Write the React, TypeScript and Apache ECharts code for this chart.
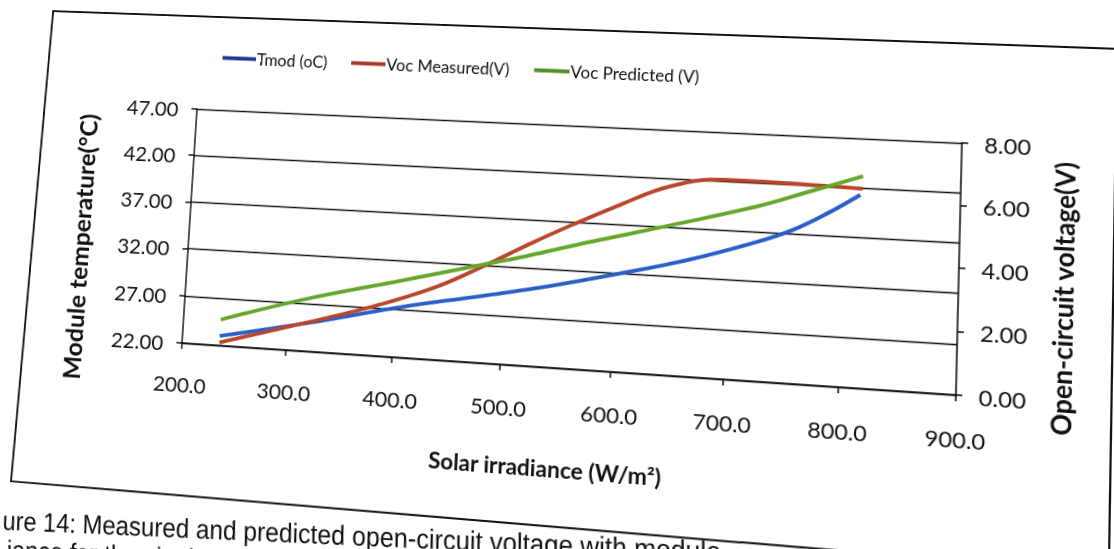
import { useEffect, useRef } from "react";
import * as echarts from "echarts";

// Module temperature (left axis) against solar irradiance
const tmodIrradiance = [236, 317, 405, 481, 545, 604, 665, 725, 756, 785, 814];
const tmodValues = [23.0, 24.9, 27.2, 28.9, 30.4, 32.0, 33.8, 36.0, 37.4, 39.2, 41.3];

// Measured open-circuit voltage (right axis)
const vocMeasuredIrradiance = [236, 303, 377, 437, 481, 519, 548, 602, 647, 695, 728, 772, 816];
const vocMeasuredValues = [0.1, 0.8, 1.6, 2.4, 3.2, 3.95, 4.5, 5.45, 6.15, 6.45, 6.45, 6.42, 6.38];

// Predicted open-circuit voltage (right axis)
const vocPredictedIrradiance = [236, 316, 405, 481, 519, 573, 648, 724, 769, 816];
const vocPredictedValues = [0.87, 1.74, 2.55, 3.25, 3.6, 4.15, 4.87, 5.63, 6.19, 6.78];

const seriesNames = ["Tmod (oC)", "Voc Measured(V)", "Voc Predicted (V)"];
const seriesColors = ["#2a5fc9", "#b9452c", "#64a72c"];
const legendColors = ["#1d3a8f", "#a8382a", "#4f8f22"];

const captionLines = [
  "ure 14: Measured and predicted open-circuit voltage with module",
  "iance for the single module",
];

// Page is a tilted sheet: the flat plot rectangle is mapped onto a slanted quad.
const PLOT = { left: 190, top: 122, width: 770, height: 246 };
const SHEET_QUAD = [
  [197, 109],
  [962, 143],
  [182, 343],
  [956, 395],
];
// Outline of the chart area drawn around everything
const FRAME = [
  [25, 23],
  [1102, 23],
  [1102, 526],
  [16, 524],
];

function homography(src: number[][], dst: number[][]): number[] {
  const A: number[][] = [];
  const b: number[] = [];
  for (let i = 0; i < 4; i++) {
    const [x, y] = src[i];
    const [X, Y] = dst[i];
    A.push([x, y, 1, 0, 0, 0, -x * X, -y * X]);
    b.push(X);
    A.push([0, 0, 0, x, y, 1, -x * Y, -y * Y]);
    b.push(Y);
  }
  const n = 8;
  for (let c = 0; c < n; c++) {
    let p = c;
    for (let r = c + 1; r < n; r++) if (Math.abs(A[r][c]) > Math.abs(A[p][c])) p = r;
    [A[c], A[p]] = [A[p], A[c]];
    [b[c], b[p]] = [b[p], b[c]];
    for (let r = 0; r < n; r++) {
      if (r === c) continue;
      const f = A[r][c] / A[c][c];
      for (let k = c; k < n; k++) A[r][k] -= f * A[c][k];
      b[r] -= f * b[c];
    }
  }
  return b.map((v, i) => v / A[i][i]);
}

const plotCorners = [
  [PLOT.left, PLOT.top],
  [PLOT.left + PLOT.width, PLOT.top],
  [PLOT.left, PLOT.top + PLOT.height],
  [PLOT.left + PLOT.width, PLOT.top + PLOT.height],
];
const h = homography(plotCorners, SHEET_QUAD);
const sheetTransform = `matrix3d(${h[0]},${h[3]},0,${h[6]},${h[1]},${h[4]},0,${h[7]},0,0,1,0,${h[2]},${h[5]},0,1)`;

const FONT = "Lato, 'Open Sans', sans-serif";
const CAPTION_FONT = "27.5px 'Liberation Sans Narrow', 'Arial Narrow', 'Liberation Sans', sans-serif";
const INK = "#111111";
// The caption below the frame sits on a slightly flatter baseline than the chart
// and is set in a condensed face.
const CAPTION_TILT = (2.3 * Math.PI) / 180;
const CAPTION_CONDENSE = 0.93;

export default function App() {
  const ref = useRef<HTMLDivElement>(null);

  useEffect(() => {
    if (!ref.current) return;
    const chart = echarts.init(ref.current, undefined, { renderer: "svg" });

    const pairs = (xs: number[], ys: number[]) => xs.map((x, i) => [x, ys[i]]);
    const seriesData = [
      pairs(tmodIrradiance, tmodValues),
      pairs(vocMeasuredIrradiance, vocMeasuredValues),
      pairs(vocPredictedIrradiance, vocPredictedValues),
    ];

    const axisLine = { show: true, lineStyle: { color: INK, width: 1.5 } };
    const axisTick = { show: true, length: 6, lineStyle: { color: INK, width: 1.5 } };
    const tickLabel = { fontFamily: FONT, fontSize: 22, color: INK };

    chart.setOption({
      animation: false,
      backgroundColor: "#ffffff",
      legend: {
        left: 209,
        top: 53,
        icon: "rect",
        itemWidth: 36,
        itemHeight: 4,
        itemGap: 25,
        textStyle: { fontFamily: FONT, fontSize: 17, color: INK, padding: [0, 0, 0, -4] },
        data: seriesNames.map((name, i) => ({ name, itemStyle: { color: legendColors[i] } })),
      },
      grid: {
        left: PLOT.left,
        top: PLOT.top,
        width: PLOT.width,
        height: PLOT.height,
        containLabel: false,
      },
      xAxis: {
        type: "value",
        min: 200,
        max: 900,
        interval: 100,
        axisLine,
        axisTick,
        splitLine: { show: false },
        axisLabel: { ...tickLabel, margin: 31, formatter: (v: number) => v.toFixed(1) },
      },
      yAxis: [
        {
          type: "value",
          position: "left",
          min: 22,
          max: 47,
          interval: 5,
          axisLine,
          axisTick,
          splitLine: { show: true, lineStyle: { color: INK, width: 1.3 } },
          axisLabel: { ...tickLabel, margin: 20, formatter: (v: number) => v.toFixed(2) },
        },
        {
          type: "value",
          position: "right",
          min: 0,
          max: 8,
          interval: 2,
          axisLine,
          axisTick,
          splitLine: { show: false },
          axisLabel: { ...tickLabel, margin: 21, formatter: (v: number) => v.toFixed(2) },
        },
      ],
      graphic: [
        {
          type: "polygon",
          shape: { points: FRAME },
          style: { fill: "none", stroke: INK, lineWidth: 2 },
          z: -1,
        },
        {
          type: "text",
          x: 73,
          y: 273,
          rotation: Math.PI / 2,
          style: {
            text: "Module temperature(°C)",
            align: "center",
            verticalAlign: "middle",
            font: `bold 26px ${FONT}`,
            fill: INK,
          },
        },
        {
          type: "text",
          x: 1056,
          y: 268,
          rotation: Math.PI / 2,
          style: {
            text: "Open-circuit voltage(V)",
            align: "center",
            verticalAlign: "middle",
            font: `bold 25.5px ${FONT}`,
            fill: INK,
          },
        },
        {
          type: "text",
          x: 568,
          y: 468,
          style: {
            text: "Solar irradiance (W/m²)",
            align: "center",
            verticalAlign: "middle",
            font: `bold 22.5px ${FONT}`,
            fill: INK,
          },
        },
        {
          type: "group",
          x: 10,
          y: 565,
          rotation: CAPTION_TILT,
          scaleX: CAPTION_CONDENSE,
          children: [
            {
              type: "text",
              x: 0,
              y: 0,
              style: {
                text: captionLines[0],
                align: "left",
                verticalAlign: "middle",
                font: CAPTION_FONT,
                fill: INK,
              },
            },
            {
              type: "text",
              x: 6,
              y: 30,
              style: {
                text: captionLines[1],
                align: "left",
                verticalAlign: "middle",
                font: CAPTION_FONT,
                fill: INK,
              },
            },
          ],
        },
      ],
      series: seriesNames.map((name, i) => ({
        name,
        type: "line",
        yAxisIndex: i === 0 ? 0 : 1,
        smooth: 0.4,
        showSymbol: false,
        data: seriesData[i],
        lineStyle: { color: seriesColors[i], width: 3.8 },
        itemStyle: { color: seriesColors[i] },
      })),
    });

    return () => chart.dispose();
  }, []);

  return (
    <div
      style={{
        position: "fixed",
        left: 0,
        top: 0,
        width: "100vw",
        height: "100vh",
        overflow: "hidden",
        background: "#ffffff",
      }}
    >
      <div
        ref={ref}
        style={{
          position: "absolute",
          left: 0,
          top: 0,
          width: 1114,
          height: 620,
          transformOrigin: "0 0",
          transform: sheetTransform,
        }}
      />
    </div>
  );
}
